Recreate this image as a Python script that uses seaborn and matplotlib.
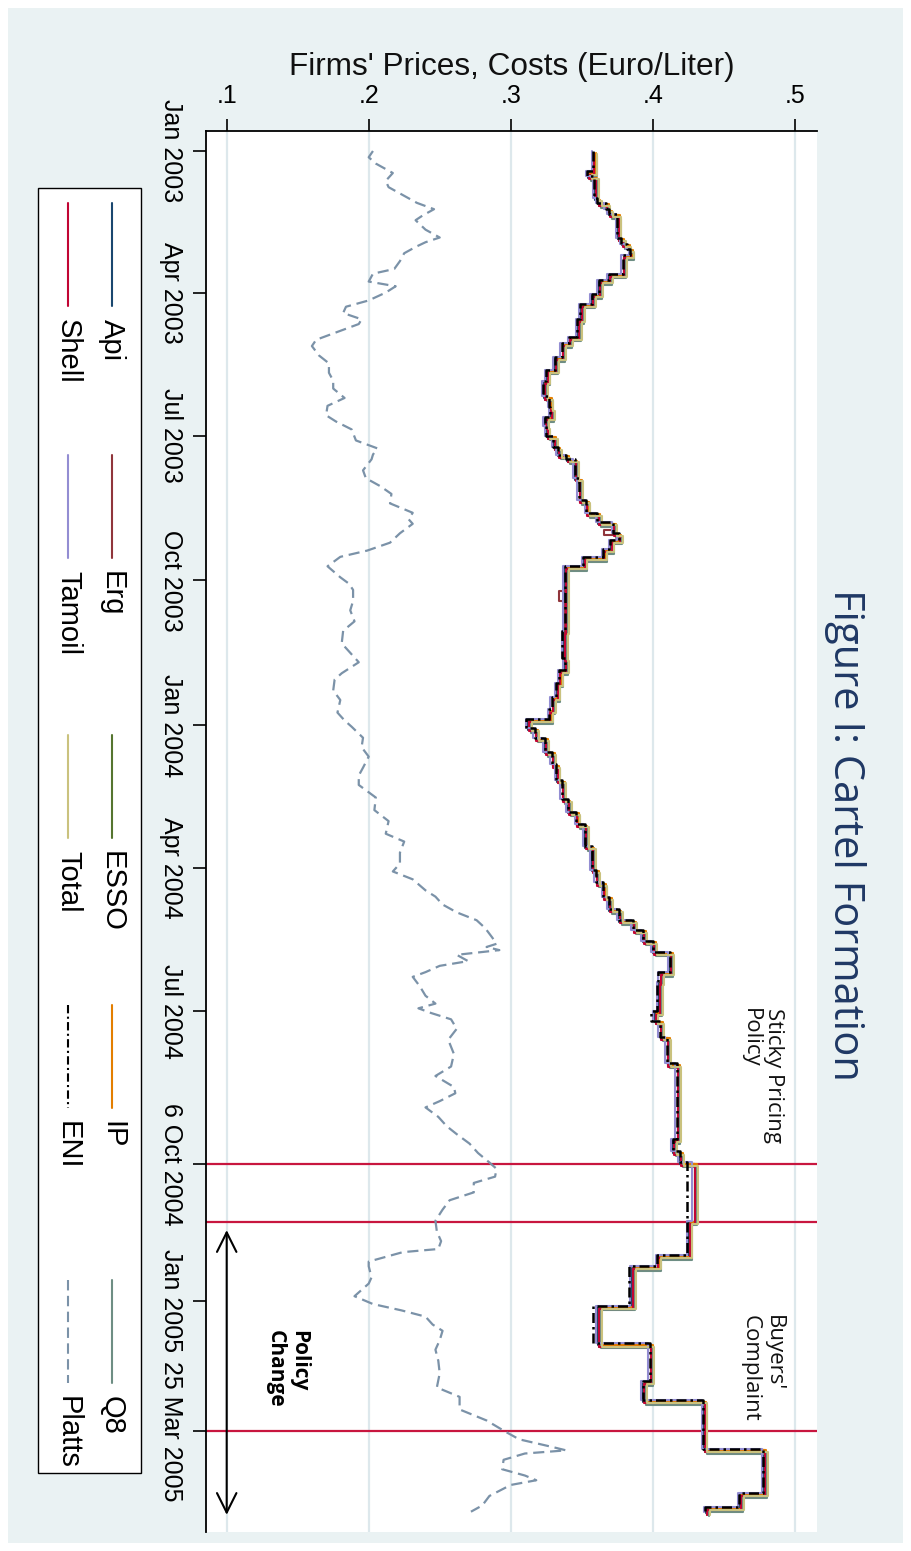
import pandas as pd
import matplotlib
matplotlib.use("Agg")
import matplotlib.pyplot as plt
import matplotlib.dates as mdates
from matplotlib.patches import Rectangle
import seaborn as sns

sns.set_theme(style="white")
plt.rcParams["font.family"] = ["Liberation Sans", "DejaVu Sans"]

# ---------------- data (days counted from 1 Jan 2003) ----------------
START = pd.Timestamp("2003-01-01")

eni_days = [0, 13, 16, 30, 33, 37, 40, 55, 59, 62, 66, 78, 82, 91, 97, 107, 118, 122, 131, 139,
            146, 156, 163, 169, 175, 181, 188, 193, 196, 208, 222, 230, 236, 243, 247, 253, 258, 264, 305, 322,
            330, 338, 347, 355, 361, 367, 373, 382, 390, 400, 412, 420, 428, 442, 457, 465, 474, 482, 489, 495,
            502, 509, 522, 528, 547, 553, 563, 580, 628, 636, 643, 680, 702, 709, 734, 758, 782, 794, 825, 853,
            862, 865]
eni_price = [0.358, 0.354, 0.359, 0.361, 0.367, 0.369, 0.375, 0.378, 0.382, 0.384,
             0.379, 0.369, 0.362, 0.357, 0.349, 0.347, 0.341, 0.336, 0.331, 0.325,
             0.323, 0.327, 0.328, 0.324, 0.325, 0.330, 0.333, 0.339, 0.345, 0.348,
             0.353, 0.361, 0.372, 0.376, 0.370, 0.365, 0.351, 0.338, 0.336, 0.338,
             0.334, 0.332, 0.329, 0.327, 0.311, 0.317, 0.324, 0.329, 0.332, 0.336,
             0.340, 0.346, 0.352, 0.357, 0.360, 0.365, 0.369, 0.376, 0.386, 0.393,
             0.400, 0.412, 0.404, 0.403, 0.399, 0.405, 0.410, 0.417, 0.414, 0.419,
             0.424, 0.424, 0.403, 0.383, 0.358, 0.398, 0.393, 0.4355, 0.478, 0.461,
             0.437, 0.437]
# common path of the rival retailers (same dates as ENI)
rival_price = [0.358, 0.354, 0.359, 0.361, 0.367, 0.369, 0.375, 0.378, 0.382, 0.384,
               0.379, 0.369, 0.362, 0.357, 0.349, 0.347, 0.341, 0.336, 0.331, 0.325,
               0.323, 0.327, 0.328, 0.324, 0.325, 0.330, 0.333, 0.339, 0.345, 0.348,
               0.353, 0.361, 0.372, 0.376, 0.370, 0.365, 0.351, 0.338, 0.337, 0.338,
               0.334, 0.332, 0.329, 0.327, 0.312, 0.317, 0.324, 0.329, 0.332, 0.336,
               0.340, 0.346, 0.352, 0.357, 0.360, 0.365, 0.369, 0.376, 0.386, 0.393,
               0.400, 0.412, 0.405, 0.404, 0.401, 0.405, 0.410, 0.417, 0.414, 0.419,
               0.429, 0.425, 0.403, 0.385, 0.361, 0.398, 0.393, 0.4355, 0.478, 0.461,
               0.437, 0.437]

firms = ["Api", "Erg", "ESSO", "IP", "Q8", "Shell", "Tamoil", "Total"]
firm_colors = ["#1a476f", "#90353b", "#55752f", "#e37e00", "#6e8e84", "#c10534", "#938dd2", "#cac27e"]
firm_lag_days = [1, 1, 2, 1, 3, 2, 0, 2]
firm_level_gap = [0.0005, 0.001, 0.0015, 0.002, 0.0025, 0.001, -0.001, 0.003]
# Erg's two short price cuts
erg_extra_days = [241, 280, 286]
erg_extra_price = [0.366, 0.334, 0.338]

platts_days = [0, 4, 8, 14, 19, 23, 28, 33, 37, 41, 44, 50, 55, 58, 61, 65, 70, 75, 78, 83,
               86, 90, 95, 99, 103, 107, 110, 115, 120, 124, 130, 135, 141, 146, 151, 157, 162, 168, 172, 177,
               184, 189, 193, 196, 203, 208, 213, 218, 224, 230, 234, 237, 243, 249, 254, 258, 264, 271, 275, 279,
               286, 292, 299, 305, 313, 319, 325, 332, 336, 343, 349, 357, 362, 366, 373, 379, 385, 392, 397, 403,
               411, 419, 426, 434, 439, 446, 453, 458, 463, 470, 474, 479, 484, 489, 494, 500, 504, 506, 508, 511,
               515, 518, 522, 525, 531, 537, 542, 545, 548, 552, 558, 565, 574, 582, 588, 595, 599, 604, 608, 614,
               620, 625, 631, 637, 643, 647, 652, 656, 662, 667, 673, 680, 687, 693, 698, 700, 706, 709, 716, 720,
               724, 728, 733, 737, 741, 746, 750, 756, 762, 769, 777, 786, 792, 800, 807, 814, 819, 824, 826, 828,
               832, 838, 842, 845, 848, 855, 861, 865]
platts_price = [0.203, 0.200, 0.205, 0.217, 0.212, 0.214, 0.224, 0.234, 0.246, 0.238,
                0.233, 0.240, 0.250, 0.240, 0.233, 0.225, 0.222, 0.218, 0.203, 0.200,
                0.219, 0.212, 0.200, 0.184, 0.182, 0.195, 0.193, 0.178, 0.163, 0.160,
                0.165, 0.172, 0.172, 0.175, 0.175, 0.183, 0.171, 0.170, 0.177, 0.188,
                0.191, 0.206, 0.203, 0.202, 0.196, 0.198, 0.208, 0.216, 0.215, 0.231,
                0.228, 0.231, 0.222, 0.215, 0.199, 0.180, 0.171, 0.180, 0.186, 0.189,
                0.189, 0.187, 0.190, 0.182, 0.181, 0.187, 0.193, 0.181, 0.176, 0.175,
                0.180, 0.178, 0.183, 0.188, 0.196, 0.195, 0.200, 0.196, 0.193, 0.193,
                0.205, 0.204, 0.214, 0.212, 0.225, 0.222, 0.222, 0.217, 0.231, 0.240,
                0.247, 0.252, 0.262, 0.276, 0.282, 0.287, 0.290, 0.283, 0.292, 0.262,
                0.270, 0.250, 0.240, 0.231, 0.236, 0.240, 0.247, 0.235, 0.244, 0.258,
                0.262, 0.256, 0.260, 0.258, 0.247, 0.260, 0.261, 0.250, 0.240, 0.249,
                0.255, 0.262, 0.271, 0.277, 0.285, 0.290, 0.289, 0.274, 0.274, 0.257,
                0.252, 0.247, 0.248, 0.251, 0.249, 0.224, 0.200, 0.200, 0.202, 0.200,
                0.195, 0.190, 0.203, 0.223, 0.240, 0.245, 0.252, 0.250, 0.247, 0.249,
                0.250, 0.248, 0.264, 0.264, 0.283, 0.296, 0.306, 0.330, 0.339, 0.310,
                0.295, 0.294, 0.310, 0.318, 0.300, 0.285, 0.280, 0.272]

price_ticks = [0.1, 0.2, 0.3, 0.4, 0.5]
price_tick_labels = [".1", ".2", ".3", ".4", ".5"]
date_ticks = ["2003-01-01", "2003-04-01", "2003-07-01", "2003-10-01", "2004-01-01",
              "2004-04-01", "2004-07-01", "2004-10-06", "2005-01-01", "2005-03-25"]
date_tick_labels = ["Jan 2003", "Apr 2003", "Jul 2003", "Oct 2003", "Jan 2004",
                    "Apr 2004", "Jul 2004", "6 Oct 2004", "Jan 2005", "25 Mar 2005"]
event_dates = ["2004-10-06", "2004-11-12", "2005-03-25"]


def to_dates(days):
    return START + pd.to_timedelta(days, unit="D")


def dnum(day):
    return mdates.date2num(START + pd.Timedelta(days=day))


ENI_DASH = (0, (4.0, 1.6, 1.0, 1.6))
PLATTS_DASH = (0, (5, 2.6))

# ---------------- figure ----------------
W, H = 911, 1551
BG = "#eaf2f3"
fig = plt.figure(figsize=(W / 100, H / 100), dpi=100)
fig.patch.set_facecolor("white")
fig.add_artist(Rectangle((8 / W, 8 / H), (W - 16) / W, (H - 16) / H, transform=fig.transFigure,
                         facecolor=BG, edgecolor="none", zorder=-10))

ax = fig.add_axes([206 / W, 1 - 1532 / H, 611 / W, (1532 - 130.7) / H])
ax.set_facecolor("white")

# Platts (cost)
platts_df = pd.DataFrame({"price": platts_price, "date": to_dates(platts_days)})
sns.lineplot(data=platts_df, x="price", y="date", orient="y", sort=True, estimator=None,
             color="#7b92a8", linewidth=1.6, linestyle=PLATTS_DASH, ax=ax, zorder=3)

# rival retailers
for name, col, lag, gap in zip(firms, firm_colors, firm_lag_days, firm_level_gap):
    days = [d + lag for d in eni_days]
    prices = [p + gap for p in rival_price]
    if name == "Erg":
        days = days + erg_extra_days
        prices = prices + erg_extra_price
    df = pd.DataFrame({"price": prices, "date": to_dates(days)})
    sns.lineplot(data=df, x="price", y="date", orient="y", sort=True, estimator=None,
                 color=col, linewidth=1.5, drawstyle="steps-pre", ax=ax, zorder=4)

# ENI
eni_df = pd.DataFrame({"price": eni_price, "date": to_dates(eni_days)})
sns.lineplot(data=eni_df, x="price", y="date", orient="y", sort=True, estimator=None,
             color="black", linewidth=1.8, linestyle=ENI_DASH,
             drawstyle="steps-pre", ax=ax, zorder=5)

# axes limits / ticks
ax.set_xlim(0.08542, 0.5157)
ax.set_ylim(dnum(877.9), dnum(-12.9))
ax.xaxis.tick_top()
ax.xaxis.set_label_position("top")
ax.set_xticks(price_ticks)
ax.set_xticklabels(price_tick_labels)
ax.set_yticks([mdates.date2num(pd.Timestamp(d)) for d in date_ticks])
ax.set_yticklabels(date_tick_labels, rotation=-90, va="center", ha="right")
ax.set_ylabel("")
ax.set_xlabel("Firms' Prices, Costs (Euro/Liter)", fontsize=22.7, labelpad=6, color="#111111")
ax.tick_params(axis="x", top=True, bottom=False, labeltop=True, labelbottom=False,
               direction="out", length=8.6, width=1.2, pad=8, labelsize=18, colors="black")
ax.tick_params(axis="y", left=True, direction="out", length=9.4, width=1.2, pad=7,
               labelsize=18, colors="black")
for s in ["right", "bottom"]:
    ax.spines[s].set_visible(False)
for s in ["left", "top"]:
    ax.spines[s].set_color("black")
    ax.spines[s].set_linewidth(1.3)
ax.grid(True, axis="x", color="#dde8ec", linewidth=1.6)
ax.grid(False, axis="y")
ax.set_axisbelow(True)

if ax.get_legend() is not None:
    ax.get_legend().remove()

for d in event_dates:
    ax.axhline(mdates.date2num(pd.Timestamp(d)), color="#c8163f", linewidth=1.6, zorder=2)

# annotations
ann_font = ["Open Sans", "DejaVu Sans"]
ax.text(0.477, dnum(544.8), "Sticky Pricing\nPolicy", rotation=-90, ha="center", va="top",
        multialignment="left", fontsize=16, family=ann_font, color="#111111", linespacing=1.15)
ax.text(0.477, dnum(740), "Buyers'\nComplaint", rotation=-90, ha="center", va="top",
        multialignment="left", fontsize=16, family=ann_font, color="#111111", linespacing=1.15)
ax.text(0.1425, dnum(749.5), "Policy\nChange", rotation=-90, ha="center", va="top",
        multialignment="left", fontsize=15, family=ann_font, fontweight="bold", color="black",
        linespacing=1.15)
ax.annotate("", xy=(0.1, dnum(867)), xytext=(0.1, dnum(686)),
            arrowprops=dict(arrowstyle="<->,head_length=0.7,head_width=0.35", lw=1.5,
                            color="black", shrinkA=0, shrinkB=0, mutation_scale=20), zorder=6)

# title
fig.text(845 / W, 1 - 835 / H, "Figure I: Cartel Formation", rotation=-90, ha="center", va="center",
         fontsize=30, family=["Open Sans", "DejaVu Sans"], color="#1f3864")

# legend (drawn rotated, in pixel space)
lax = fig.add_axes([0, 0, 1, 1], zorder=10)
lax.set_xlim(0, W)
lax.set_ylim(H, 0)
lax.axis("off")
lax.add_patch(Rectangle((38, 188), 103, 1285, facecolor="white", edgecolor="black", lw=1.0))
legend_cols = [(112, firms[:5], firm_colors[:5], ["-"] * 5),
               (68, ["Shell", "Tamoil", "Total", "ENI", "Platts"],
                firm_colors[5:] + ["black", "#7b92a8"],
                ["-", "-", "-", ENI_DASH, PLATTS_DASH])]
entry_starts = [203, 455, 735, 1005, 1280]
for xc, names, cols, styles in legend_cols:
    for y0, nm, c, ls in zip(entry_starts, names, cols, styles):
        lax.plot([xc, xc], [y0, y0 + 103], color=c, lw=1.5, linestyle=ls)
        lax.text(xc, y0 + 116, nm, rotation=-90, ha="center", va="top", fontsize=21, color="black")

fig.savefig("out.png", dpi=100, facecolor=fig.get_facecolor())
